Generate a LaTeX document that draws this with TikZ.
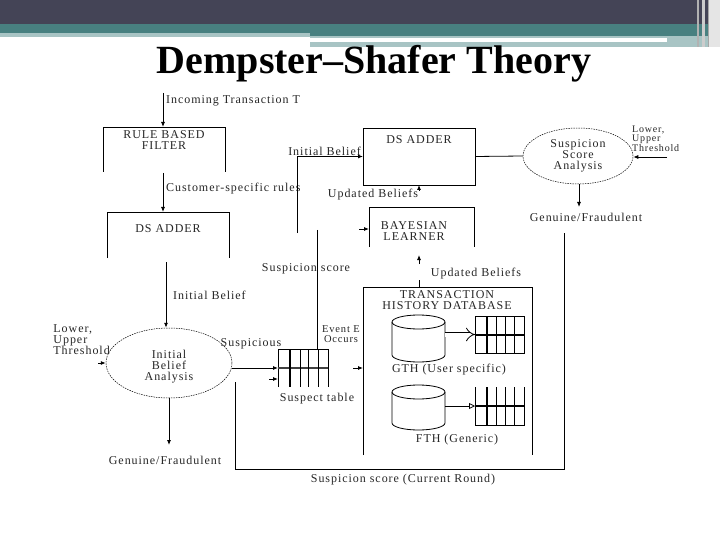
\documentclass[tikz,border=0pt]{standalone}
\usepackage{fontspec}
\setmainfont{Liberation Serif}
\newfontfamily\dfont[LetterSpace=8]{Liberation Serif}
\usetikzlibrary{arrows.meta,shapes.geometric}
\definecolor{hdark}{RGB}{68,68,86}
\definecolor{hteal}{RGB}{72,128,128}
\definecolor{hlight}{RGB}{168,196,196}
\begin{document}
\begin{tikzpicture}[x=1pt,y=-1pt,
  ln/.style={line width=0.8pt},
  arr/.style={ln,-{Latex[length=5pt,width=4pt]}},
  lbl/.style={font=\dfont\fontsize{12}{11}\selectfont, text=black!85, inner sep=0pt, align=center},
  capl/.style={font=\dfont\fontsize{12}{11}\selectfont, text=black!85, inner sep=0pt, align=center},
  sml/.style={font=\dfont\fontsize{10}{9}\selectfont, text=black!85, inner sep=0pt, align=left},
  area/.style={inner sep=0pt, outer sep=0pt, draw=none},
  dell/.style={ellipse, draw, line width=0.5pt, dash pattern=on 1.5pt off 1pt, inner sep=0pt}]
\useasboundingbox (0,0) rectangle (720,540);
% header
\fill[hdark] (0,0) rectangle (720,24);
\fill[hteal] (0,24) rectangle (720,33);
\fill[hlight] (0,33) rectangle (310,37);
\fill[hteal] (310,33) rectangle (720,36);
\fill[hlight] (310,36) rectangle (720,47);
\fill[white] (310,38) rectangle (667,42);
\fill[gray!60] (697,0) rectangle (699,47);
\fill[gray!40] (702,0) rectangle (705,47);
\fill[gray!70] (708,0) rectangle (709,47);
\fill[gray!20] (709,0) rectangle (720,47);
\node[anchor=base, inner sep=0pt] (title) at (374,74) {\fontsize{40}{40}\selectfont\bfseries Dempster–Shafer Theory};

% rule based filter
\node[area, minimum width=122pt, minimum height=45pt] (rbf) at (164,149.5) {};
\draw[ln] (rbf.south west) -- (rbf.north west) -- (rbf.north east) -- (rbf.south east);
\node[capl] (rbft) at (164,140) {RULE BASED\\FILTER};
\coordinate (inc) at (163,93);
\draw[arr] (inc) -- (inc |- rbf.north);
\node[lbl, anchor=west] (inct) at (166,101) {Incoming Transaction T};

% DS adder left
\node[area, minimum width=122pt, minimum height=46pt] (dsl) at (168,235) {};
\draw[ln] (dsl.south west) -- (dsl.north west) -- (dsl.north east) -- (dsl.south east);
\node[lbl] (dslt) at (168,229) {DS ADDER};
\coordinate (crs) at (163,173);
\draw[arr] (crs) -- (crs |- dsl.north);
\node[lbl, anchor=west] (crst) at (166,189) {Customer-specific rules};

% initial belief analysis
\node[dell, minimum width=126pt, minimum height=70pt] (iba) at (169,363) {};
\node[lbl] (ibat) at (169,367) {Initial\\Belief\\Analysis};
\coordinate (ibs) at (166,262);
\draw[arr] (ibs) -- (ibs |- iba.north);
\node[lbl, anchor=west] (ibt) at (173,295) {Initial Belief};
\node[lbl, anchor=east, align=left] (lutl) at (110,340) {Lower,\\Upper\\Threshold};
\coordinate (lua) at (98,363);
\draw[arr] (lua) -- (lua -| iba.west);
\coordinate (gfl) at (169,445);
\draw[arr] (iba.south) -- (gfl);
\node[lbl] (gflt) at (165,460) {Genuine/Fraudulent};

% suspect table
\node[area, minimum width=50pt, minimum height=38pt] (st) at (303,368) {};
\draw[ln] (st.south west) -- (st.north west) -- (st.north east) -- (st.south east);
\draw[line width=1.3pt, black!75] (st.west) -- (st.east);
\draw[line width=2.2pt] (290,349) -- (290,387);
\foreach \xx in {300,308,318} \draw[ln] (\xx,349) -- (\xx,387);
\draw[arr] (iba.east |- st.west) -- (st.west);
\node[lbl, anchor=south] (susp) at (251,349) {Suspicious};
\coordinate (s2) at (269,379);
\draw[arr] (s2) -- (s2 -| st.west);
\node[lbl] (stt) at (317,399) {Suspect table};
\coordinate (ssc) at (317,230);
\draw[ln] (ssc) -- (ssc |- st.north);
\node[lbl] (ssct) at (306,269) {Suspicion score};
\node[sml, align=center, font=\dfont\fontsize{10.5}{9.5}\selectfont] (eeo) at (341,334) {Event E\\Occurs};

% DS adder right
\node[area, draw, ln, minimum width=112pt, minimum height=57pt] (dsr) at (419,156.5) {};
\node[lbl] (dsrt) at (419,140) {DS ADDER};
\coordinate (ibr) at (297,233);
\draw[arr] (ibr) |- (dsr.west);
\node[lbl, anchor=south east] (ibrt) at (361,156) {Initial Belief};

% suspicion score analysis
\node[dell, minimum width=110pt, minimum height=56pt] (ssa) at (578,156) {};
\node[lbl] (ssat) at (578,156) {Suspicion\\Score\\Analysis};
\draw[ln] (dsr.east) -- (ssa.west);
\node[sml, anchor=north west] (lutr) at (632,126) {Lower,\\Upper\\Threshold};
\coordinate (lur) at (667,157);
\draw[arr] (lur) -- (lur -| ssa.east);
\coordinate (gfr) at (579,207);
\draw[arr] (gfr |- ssa.south) -- (gfr);
\node[lbl] (gfrt) at (586,217) {Genuine/Fraudulent};

% updated beliefs top
\coordinate (ub1) at (419,191);
\draw[arr] (ub1) -- (ub1 |- dsr.south);
\node[lbl] (ub1t) at (373,195) {Updated Beliefs};

% bayesian learner
\node[area, minimum width=105pt, minimum height=40pt] (bl) at (421.5,227) {};
\draw[ln] (bl.south west) -- (bl.north west) -- (bl.north east) -- (bl.south east);
\node[capl] (blt) at (414,231) {BAYESIAN\\LEARNER};
\coordinate (bla) at (359,229);
\draw[arr] (bla) -- (bla -| bl.west);
\coordinate (ub2) at (419,264);
\coordinate (ub2e) at (419,255);
\draw[arr] (ub2) -- (ub2e);
\node[lbl] (ub2t) at (476,274) {Updated Beliefs};

% transaction history database
\node[area, minimum width=169pt, minimum height=168pt] (db) at (447.5,371) {};
\draw[ln] (db.south west) -- (db.north west) -- (db.north east) -- (db.south east);
\coordinate (ub2s) at (419,280);
\draw[ln] (db.north -| ub2s) -- (ub2s);
\node[capl] (dbt) at (447,300) {TRANSACTION\\HISTORY DATABASE};
\coordinate (dba) at (353,368);
\draw[arr] (dba) -- (dba -| db.west);

% GTH cylinder
\node[area, minimum width=53pt, minimum height=47pt] (gth) at (418.5,338.5) {};
\draw[ln] (392,322) -- (392,355) arc[start angle=180, end angle=0, x radius=26.5, y radius=7] -- (445,322);
\draw[ln] (418.5,322) ellipse [x radius=26.5, y radius=7];
% table 1
\node[area, minimum width=49pt, minimum height=37pt] (t1) at (499.5,334.5) {};
\draw[ln] (t1.north west) rectangle (t1.south east);
\draw[line width=2pt] (t1.west) -- (t1.east);
\draw[line width=2.4pt] (487,316) -- (487,353);
\foreach \xx in {496,505,514} \draw[ln] (\xx,316) -- (\xx,353);
\draw[ln, double, double distance=4pt, -{Implies}] (gth.east |- t1.west) -- (t1.west);
\node[lbl] (gtht) at (449,370) {GTH (User specific)};

% FTH cylinder
\node[area, minimum width=53pt, minimum height=45pt] (fth) at (418.5,407.5) {};
\draw[ln] (392,392) -- (392,423) arc[start angle=180, end angle=0, x radius=26.5, y radius=7] -- (445,392);
\draw[ln] (418.5,392) ellipse [x radius=26.5, y radius=7];
% table 2
\node[area, minimum width=49pt, minimum height=38pt] (t2) at (499.5,406) {};
\draw[ln] (t2.north west) -- (t2.south west) -- (t2.south east) -- (t2.north east);
\draw[line width=2pt] (t2.west) -- (t2.east);
\draw[line width=2.4pt] (487,387) -- (487,425);
\foreach \xx in {496,505,514} \draw[ln] (\xx,387) -- (\xx,425);
\draw[ln, -{Triangle[open, length=6pt, width=6pt]}] (fth.east |- t2.west) -- (t2.west);
\node[lbl] (ftht) at (457,440) {FTH (Generic)};

% outer loop
\coordinate (lp1) at (235,382);
\coordinate (lp2) at (564,233);
\draw[ln] (lp1) -- (lp1 |- 0,469) -- (lp2 |- 0,469) -- (lp2);
\node[lbl] (lpt) at (403,480) {Suspicion score (Current Round)};
\end{tikzpicture}
\end{document}
